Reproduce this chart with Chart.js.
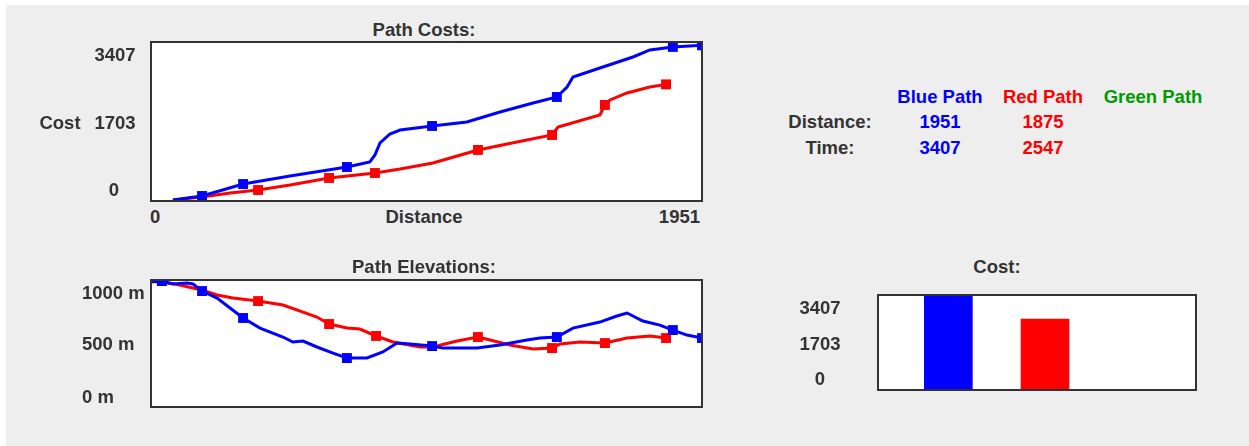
<!DOCTYPE html>
<html>
<head>
<meta charset="utf-8">
<script src="https://cdn.jsdelivr.net/npm/chart.js@4.4.1/dist/chart.umd.min.js"></script>
<style>
  body { margin: 0; background: #fff; width: 1249px; height: 446px; overflow: hidden;
         font-family: "Liberation Sans", Arial, sans-serif; }
  #panel { position: absolute; left: 6px; top: 5px; width: 1243px; height: 441px; background: #eeeeee; }
  .lbl { position: absolute; font-weight: bold; font-size: 18.5px; line-height: 1; color: #333;
         white-space: nowrap; }
  .box { position: absolute; background: #fff; }
  .frame { position: absolute; border: 2px solid #333; box-sizing: border-box; pointer-events: none; }
  canvas { position: absolute; left: 0; top: 0; }
</style>
</head>
<body>
<div id="panel"></div>
<div class="box" id="costBox" style="left:150px;top:42px;width:552px;height:158px;"><canvas id="costChart" width="552" height="158"></canvas></div>
<div class="frame" style="left:150px;top:41px;width:553px;height:161px;"></div>
<div class="box" id="elevBox" style="left:150px;top:279px;width:552px;height:128px;"><canvas id="elevChart" width="552" height="128"></canvas></div>
<div class="frame" style="left:150px;top:279px;width:553px;height:129px;"></div>
<div class="box" id="barBox" style="left:877px;top:295px;width:319px;height:95px;"><canvas id="barChart" width="319" height="95"></canvas></div>
<div class="frame" style="left:877px;top:294px;width:320px;height:97px;"></div>

<script>
// path costs (distance -> accumulated cost)
const costDistBlue = [81, 184, 329, 495, 696, 777, 795, 813, 848, 884, 997, 1120, 1237, 1354, 1438, 1474, 1495, 1590, 1707, 1767, 1848, 1951];
const costBlue = [0, 88, 352, 529, 727, 837, 991, 1256, 1454, 1542, 1630, 1718, 1939, 2137, 2269, 2489, 2710, 2908, 3150, 3305, 3371, 3407];
const costMarksBlue = [1, 2, 4, 10, 14, 20, 21];

const costDistRed = [81, 184, 283, 382, 495, 633, 795, 884, 1000, 1159, 1297, 1421, 1442, 1590, 1608, 1626, 1686, 1767, 1824];
const costRed = [0, 66, 154, 220, 330, 485, 595, 683, 815, 1102, 1278, 1432, 1608, 1873, 2093, 2203, 2357, 2489, 2547];
const costMarksRed = [3, 5, 6, 9, 11, 14, 18];

// path elevations (distance -> metres)
const elevDistBlue = [0, 42, 81, 131, 152, 184, 237, 283, 329, 389, 470, 505, 541, 590, 647, 696, 767, 823, 873, 919, 997, 1035, 1156, 1237, 1332, 1378, 1438, 1495, 1590, 1650, 1686, 1742, 1802, 1848, 1898, 1951];
const elevBlue = [1106, 1115, 1087, 1096, 1087, 1019, 952, 856, 760, 663, 577, 529, 538, 481, 423, 375, 375, 433, 519, 510, 490, 471, 471, 500, 548, 567, 577, 663, 721, 779, 808, 731, 692, 644, 596, 567];
const elevMarksBlue = [1, 5, 8, 15, 20, 26, 33, 35];

const elevDistRed = [0, 88, 184, 237, 293, 382, 470, 541, 590, 633, 696, 742, 799, 859, 954, 1000, 1085, 1159, 1202, 1272, 1354, 1421, 1449, 1520, 1608, 1686, 1767, 1824];
const elevRed = [1115, 1087, 1029, 981, 952, 923, 885, 817, 769, 702, 663, 654, 587, 529, 481, 481, 538, 577, 548, 500, 462, 471, 510, 529, 519, 567, 587, 567];
const elevMarksRed = [5, 9, 12, 17, 21, 24, 27];

// summary
const pathNames = ["Blue Path", "Red Path", "Green Path"];
const pathColors = ["#0000ff", "#ff0000", "#009a00"];
const pathDistance = [1951, 1875, null];
const pathTime = [3407, 2547, null];

// tick labels
const costTicks = ["3407", "1703", "0"];
const distTicks = ["0", "Distance", "1951"];
const elevTicks = ["1000 m", "500 m", "0 m"];
const barTicks = ["3407", "1703", "0"];

const maxDist = 1951;

// text helper, (x, y) = anchor point, align: l / c / r
const label = (text, x, y, align, color) => {
  const d = document.createElement("div");
  d.className = "lbl";
  d.textContent = text;
  d.style.left = x + "px";
  d.style.top = y + "px";
  const tx = align === "l" ? "0" : align === "r" ? "-100%" : "-50%";
  d.style.transform = "translate(" + tx + ",-50%)";
  if (color) d.style.color = color;
  document.body.appendChild(d);
};

label("Path Costs:", 424, 30, "c");
label(costTicks[0], 115, 55, "c");
label("Cost", 60, 123, "c");
label(costTicks[1], 115, 123, "c");
label(costTicks[2], 114, 190, "c");
label(distTicks[0], 150, 217, "l");
label(distTicks[1], 424, 217, "c");
label(distTicks[2], 700, 217, "r");

label("Path Elevations:", 424, 267, "c");
label(elevTicks[0], 82, 293, "l");
label(elevTicks[1], 82, 344, "l");
label(elevTicks[2], 82, 397, "l");

label("Cost:", 997, 267, "c");
label(barTicks[0], 820, 308, "c");
label(barTicks[1], 820, 344, "c");
label(barTicks[2], 820, 379, "c");

// summary table
const colX = [940, 1043, 1153];
pathNames.forEach((n, i) => label(n, colX[i], 97, "c", pathColors[i]));
label("Distance:", 830, 122, "c");
label("Time:", 830, 148, "c");
pathDistance.forEach((v, i) => { if (v !== null) label(String(v), colX[i], 122, "c", pathColors[i]); });
pathTime.forEach((v, i) => { if (v !== null) label(String(v), colX[i], 148, "c", pathColors[i]); });

const toPoints = (xs, ys) => xs.map((x, i) => ({ x: x, y: ys[i] }));

const lineSet = (xs, ys, marks, color) => ({
  data: toPoints(xs, ys),
  borderColor: color,
  backgroundColor: color,
  borderWidth: 3,
  tension: 0,
  pointStyle: "rect",
  pointBorderWidth: 0,
  pointRadius: (ctx) => (marks.includes(ctx.dataIndex) ? 7 : 0),
});

const lineOptions = (yMin, yMax) => ({
  responsive: false,
  animation: false,
  layout: { padding: 0, autoPadding: false },
  scales: {
    x: { type: "linear", min: 0, max: maxDist, display: false },
    y: { min: yMin, max: yMax, display: false },
  },
  plugins: { legend: { display: false }, tooltip: { enabled: false } },
});

new Chart(document.getElementById("costChart"), {
  type: "line",
  data: {
    datasets: [
      lineSet(costDistBlue, costBlue, costMarksBlue, pathColors[0]),
      lineSet(costDistRed, costRed, costMarksRed, pathColors[1]),
    ],
  },
  options: lineOptions(0, 3480),
});

new Chart(document.getElementById("elevChart"), {
  type: "line",
  data: {
    datasets: [
      lineSet(elevDistBlue, elevBlue, elevMarksBlue, pathColors[0]),
      lineSet(elevDistRed, elevRed, elevMarksRed, pathColors[1]),
    ],
  },
  options: lineOptions(-96, 1135),
});

new Chart(document.getElementById("barChart"), {
  type: "bar",
  data: {
    labels: pathNames,
    datasets: [{ data: pathTime, backgroundColor: pathColors, barThickness: 48 }],
  },
  options: {
    responsive: false,
    animation: false,
    layout: { padding: { left: 23, right: 6, top: 0, bottom: 0 }, autoPadding: false },
    scales: {
      x: { display: false },
      y: { min: 0, max: 3407, display: false },
    },
    plugins: { legend: { display: false }, tooltip: { enabled: false } },
  },
});
</script>
</body>
</html>
